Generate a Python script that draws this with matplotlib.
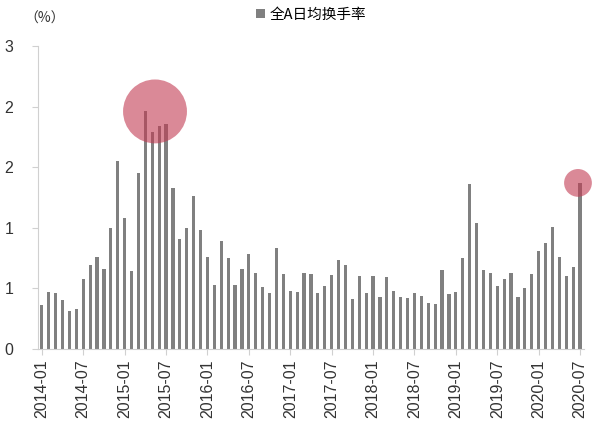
import numpy as np
import matplotlib
matplotlib.use('Agg')
import matplotlib.pyplot as plt

plt.rcParams['font.family'] = ['Liberation Sans', 'Noto Sans CJK SC', 'DejaVu Sans']

# monthly average daily turnover of all A shares, 2014-01 .. 2020-07 (%)
months = [f"{y}-{m:02d}" for y in range(2014, 2021) for m in range(1, 13)][:79]
turnover = [
    0.36, 0.47, 0.46, 0.40, 0.31, 0.33, 0.58, 0.69, 0.76, 0.66, 1.00, 1.55,
    1.08, 0.64, 1.45, 1.96, 1.79, 1.84, 1.86, 1.33, 0.91, 1.00, 1.26, 0.98,
    0.76, 0.53, 0.89, 0.75, 0.53, 0.66, 0.78, 0.63, 0.51, 0.46, 0.83, 0.62,
    0.48, 0.47, 0.63, 0.62, 0.46, 0.52, 0.61, 0.73, 0.69, 0.41, 0.60, 0.46,
    0.60, 0.43, 0.59, 0.48, 0.43, 0.42, 0.46, 0.44, 0.38, 0.37, 0.65, 0.45,
    0.47, 0.75, 1.36, 1.04, 0.65, 0.63, 0.52, 0.58, 0.63, 0.43, 0.50, 0.62,
    0.81, 0.87, 1.01, 0.76, 0.60, 0.68, 1.37,
]
# axis labels are rounded to whole numbers in the source chart
yticks = [0, 0.5, 1.0, 1.5, 2.0, 2.5]
ytick_labels = ["0", "1", "1", "2", "2", "3"]

x = np.arange(len(months))

fig = plt.figure(figsize=(6, 4.26), dpi=100)
ax = fig.add_axes([0.064, 0.181, 0.9085, 0.711])

ax.bar(x, turnover, width=0.45, color='#808080', label='全A日均换手率', zorder=2)

# highlight circles: 2015 peak and latest month
hx = [16.4, 77.7]
hy = [max(turnover), turnover[-1]]
ax.scatter(hx, hy, s=[2116, 400], color='#C23A52', alpha=0.6,
           edgecolors='none', zorder=3, clip_on=False)

ax.set_xlim(-0.5, len(months) - 0.5)
ax.set_ylim(0, 2.5)
ax.set_yticks(yticks)
ax.set_yticklabels(ytick_labels)
ax.set_xticks(x[::6])
ax.set_xticklabels(months[::6], rotation=90)

for s in ['top', 'right']:
    ax.spines[s].set_visible(False)
for s in ['left', 'bottom']:
    ax.spines[s].set_color('#d0d0d0')
ax.tick_params(axis='y', length=4, color='#d0d0d0', labelsize=11.5, pad=14, labelcolor='#333333')
ax.tick_params(axis='x', length=4, color='#d0d0d0', labelsize=11.5, labelcolor='#333333')

fig.text(0.04, 0.955, '（%）', fontsize=10, color='#333333',
         family=['Noto Sans CJK SC', 'DejaVu Sans'], va='center')
ax.legend(loc='upper center', bbox_to_anchor=(0.5, 1.17), frameon=False,
          prop={'family': ['Noto Sans CJK SC', 'DejaVu Sans'], 'size': 10.5},
          handlelength=0.6, handleheight=0.6, handletextpad=0.3)

fig.savefig('out.png')
